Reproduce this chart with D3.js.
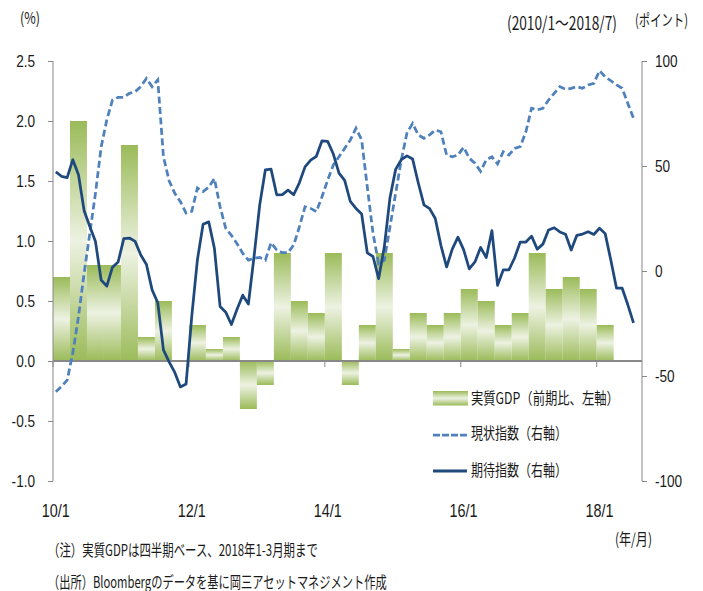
<!DOCTYPE html>
<html>
<head>
<meta charset="utf-8">
<script src="https://cdn.jsdelivr.net/npm/d3@7"></script>
<style>
  body { margin: 0; background: #fff; }
</style>
</head>
<body>
<div id="chart"></div>
<script>
// monthly categories 2010/1 .. 2018/8 (last slot left empty, as in the source)
const months = []
for (let yr = 2010; yr <= 2018; yr++) {
  for (let m = 1; m <= 12; m++) months.push(yr + '/' + m)
}
months.splice(104)

// real GDP, q/q %, 2010Q1 .. 2018Q1 (left axis)
const gdp = [0.7, 2.0, 0.8, 0.8, 1.8, 0.2, 0.5, 0.0, 0.3, 0.1, 0.2, -0.4,
  -0.2, 0.9, 0.5, 0.4, 0.9, -0.2, 0.3, 0.9, 0.1, 0.4, 0.3, 0.4,
  0.6, 0.5, 0.3, 0.4, 0.9, 0.6, 0.7, 0.6, 0.3]

// current situation index, 2010/1 .. 2018/7 (right axis)
const current = [
  -57.5, -55, -52, -39, -21.7, -1, 18, 37, 59, 72, 81.4, 82.7,
  82.7, 84.6, 85.4, 87.8, 91.7, 87.8, 91, 54.4, 43, 37, 33, 27.6,
  28.4, 39.5, 37.8, 40, 44, 30.6, 20.3, 17, 13, 8.4, 5.2, 6,
  6.5, 5.2, 13.5, 10, 8.7, 8.7, 12.4, 21, 30.6, 29.8, 28.3, 35.4,
  43.3, 50.5, 54.4, 58.4, 62.4, 68, 62.4, 40, 18, 3.5, 5.2, 21,
  37, 52.9, 65.7, 70.3, 64.8, 63.2, 64.8, 67.1, 66.3, 55.2, 54.4, 55.2,
  58.9, 53.7, 51.3, 47.5, 52.9, 54.4, 51, 56.8, 55.2, 58.4, 59.2, 66.3,
  77.5, 76.7, 77.5, 81.4, 84.6, 87.8, 86.5, 87, 87.8, 87, 88.6, 89.4,
  95.4, 92.5, 90.6, 88.6, 87, 79.8, 72.7]

// expectations index, 2010/1 .. 2018/7 (right axis)
const expectation = [
  47.2, 45.1, 44.5, 53.0, 45.8, 28.7, 21.2, 14.0, -4.3, -7.2, 1.8, 4.3,
  15.4, 15.7, 14.1, 7.6, 3.1, -9.0, -15.1, -37.6, -43.3, -48.3, -55.2, -53.8,
  -21.6, 5.4, 22.3, 23.4, 10.8, -16.9, -19.6, -25.5, -18.2, -11.5, -15.7, 6.9,
  31.5, 48.2, 48.5, 36.3, 36.4, 38.5, 36.3, 42.0, 49.6, 52.8, 54.6, 62.0,
  61.7, 55.7, 46.6, 43.2, 33.1, 29.8, 27.1, 8.6, 6.9, -3.6, 11.5, 34.9,
  48.4, 53.0, 54.8, 53.3, 41.9, 31.5, 29.7, 25.0, 12.1, 1.9, 10.4, 16.1,
  10.2, 1.0, 4.3, 11.2, 6.4, 19.2, -6.8, 0.5, 0.5, 6.2, 13.8, 13.8,
  16.6, 10.4, 12.8, 19.5, 20.6, 18.6, 17.5, 10.0, 17.0, 17.6, 18.7, 17.4,
  20.4, 17.8, 5.1, -8.2, -8.2, -16.1, -24.7]

const xTickMonths = ['2010/1', '2012/1', '2014/1', '2016/1', '2018/1']
const xTickLabels = ['10/1', '12/1', '14/1', '16/1', '18/1']
const leftTicks = [-1, -0.5, 0, 0.5, 1, 1.5, 2, 2.5]
const rightTicks = [-100, -50, 0, 50, 100]

const width = 703
const height = 591
const plot = { left: 53, right: 642, top: 61, bottom: 481 }

const green = '#9BBB59'
const greenLight = '#EDF2E2'
const dashBlue = '#4F81BD'
const navy = '#1F497D'
const axisGray = '#888'
const textColor = '#1a1a1a'
const numFont = "'Liberation Sans', Arial, sans-serif"
const jpFont = "'Noto Sans CJK JP', sans-serif"

const svg = d3
  .select('#chart')
  .append('svg')
  .attr('width', width)
  .attr('height', height)
  .style('background', '#fff')

const defs = svg.append('defs')
const grad = defs
  .append('linearGradient')
  .attr('id', 'gdpGrad')
  .attr('x1', 0)
  .attr('y1', 0)
  .attr('x2', 0)
  .attr('y2', 1)
grad.append('stop').attr('offset', '0%').attr('stop-color', green)
grad.append('stop').attr('offset', '50%').attr('stop-color', greenLight)
grad.append('stop').attr('offset', '100%').attr('stop-color', green)

const x = d3
  .scaleBand()
  .domain(months)
  .range([plot.left, plot.right])
  .padding(0)
const bw = x.bandwidth()

const yLeft = d3.scaleLinear().domain([-1, 2.5]).range([plot.bottom, plot.top])
const yRight = d3.scaleLinear().domain([-100, 100]).range([plot.bottom, plot.top])

// bars (one per quarter, spanning its three months)
svg
  .append('g')
  .selectAll('rect')
  .data(gdp.map((v, i) => ({ month: months[i * 3], value: v })).filter(d => d.value !== 0))
  .enter()
  .append('rect')
  .attr('x', d => x(d.month))
  .attr('width', bw * 3)
  .attr('y', d => yLeft(Math.max(0, d.value)))
  .attr('height', d => Math.abs(yLeft(d.value) - yLeft(0)))
  .attr('fill', 'url(#gdpGrad)')

// zero line + x ticks
svg
  .append('line')
  .attr('x1', plot.left)
  .attr('x2', plot.right)
  .attr('y1', yLeft(0))
  .attr('y2', yLeft(0))
  .attr('stroke', axisGray)
  .attr('stroke-width', 2)

svg
  .append('g')
  .selectAll('line')
  .data(xTickMonths)
  .enter()
  .append('line')
  .attr('x1', d => x(d))
  .attr('x2', d => x(d))
  .attr('y1', yLeft(0))
  .attr('y2', yLeft(0) + 6)
  .attr('stroke', axisGray)
  .attr('stroke-width', 1)

svg
  .append('g')
  .selectAll('text')
  .data(xTickMonths)
  .enter()
  .append('text')
  .attr('transform', d => `translate(${x(d) + bw / 2},517) scale(0.8,1)`)
  .attr('text-anchor', 'middle')
  .attr('font-family', numFont)
  .attr('font-size', 18)
  .attr('fill', textColor)
  .text((d, i) => xTickLabels[i])

// left axis
const leftAxis = svg
  .append('g')
  .attr('transform', `translate(${plot.left},0)`)
  .call(
    d3
      .axisLeft(yLeft)
      .tickValues(leftTicks)
      .tickFormat(d => d.toFixed(1))
      .tickSize(5)
  )
leftAxis.select('.domain').attr('stroke', axisGray).attr('d', `M0,${plot.top}V${plot.bottom}`)
leftAxis.selectAll('.tick line').attr('stroke', axisGray)
leftAxis
  .selectAll('.tick text')
  .attr('x', -18 / 0.8)
  .attr('transform', 'scale(0.8,1)')
  .attr('font-family', numFont)
  .attr('font-size', 17)
  .attr('fill', textColor)

// right axis
const rightAxis = svg
  .append('g')
  .attr('transform', `translate(${plot.right},0)`)
  .call(
    d3
      .axisRight(yRight)
      .tickValues(rightTicks)
      .tickFormat(d => String(d))
      .tickSize(5)
  )
rightAxis.select('.domain').attr('stroke', axisGray).attr('d', `M0,${plot.top}V${plot.bottom}`)
rightAxis.selectAll('.tick line').attr('stroke', axisGray)
rightAxis
  .selectAll('.tick text')
  .attr('x', 13 / 0.8)
  .attr('transform', 'scale(0.8,1)')
  .attr('font-family', numFont)
  .attr('font-size', 17)
  .attr('fill', textColor)

// lines
const line = d3
  .line()
  .x(d => x(d.month) + bw / 2)
  .y(d => yRight(d.value))

svg
  .append('path')
  .datum(current.map((v, i) => ({ month: months[i], value: v })))
  .attr('d', line)
  .attr('fill', 'none')
  .attr('stroke', dashBlue)
  .attr('stroke-width', 2.75)
  .attr('stroke-dasharray', '7,3.5')

svg
  .append('path')
  .datum(expectation.map((v, i) => ({ month: months[i], value: v })))
  .attr('d', line)
  .attr('fill', 'none')
  .attr('stroke', navy)
  .attr('stroke-width', 2.75)
  .attr('stroke-linejoin', 'round')

// texts: squeezed horizontally to the width seen in the reference
function jpText(tx, ty, str, len, size) {
  const t = svg
    .append('text')
    .attr('font-family', jpFont)
    .attr('font-size', size)
    .attr('fill', textColor)
    .text(str)
  const natural = t.node().getComputedTextLength()
  t.attr('transform', `translate(${tx},${ty}) scale(${len / natural},1)`)
  return t
}

jpText(20, 24, '(%)', 20, 16)
jpText(507, 30, '(2010/1～2018/7)', 110, 18)
jpText(635, 25.5, '(ポイント)', 53, 16)
jpText(615, 545, '(年/月)', 37, 16)
jpText(48, 555.5, '（注）実質GDPは四半期ベース、2018年1-3月期まで', 270, 16)
jpText(48, 587.5, '（出所）Bloombergのデータを基に岡三アセットマネジメント作成', 339, 16)

// legend
const legend = svg.append('g').attr('class', 'legend')
legend
  .append('rect')
  .attr('x', 433)
  .attr('y', 391)
  .attr('width', 35)
  .attr('height', 14.5)
  .attr('fill', 'url(#gdpGrad)')
legend
  .append('line')
  .attr('x1', 433)
  .attr('x2', 467)
  .attr('y1', 435)
  .attr('y2', 435)
  .attr('stroke', dashBlue)
  .attr('stroke-width', 2.75)
  .attr('stroke-dasharray', '7,2')
legend
  .append('line')
  .attr('x1', 433)
  .attr('x2', 467)
  .attr('y1', 471)
  .attr('y2', 471)
  .attr('stroke', navy)
  .attr('stroke-width', 3)

jpText(471, 404, '実質GDP（前期比、左軸）', 148, 16)
jpText(471, 439, '現状指数（右軸）', 96, 16)
jpText(471, 475.5, '期待指数（右軸）', 96, 16)
</script>
</body>
</html>
